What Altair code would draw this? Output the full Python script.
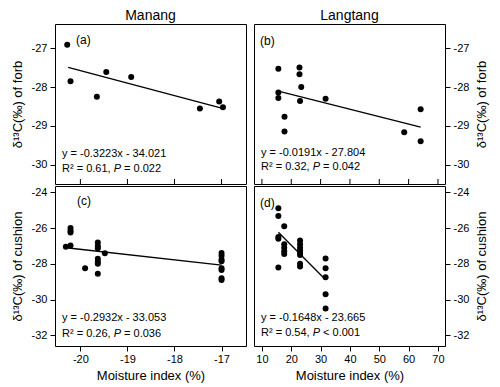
import altair as alt
import pandas as pd

FONT = "Liberation Sans"
W, H = 191, 160

# ---------------- data ----------------
manang_forb_x = [-20.28, -20.21, -19.65, -19.45, -18.92, -17.46, -17.05, -16.97]
manang_forb_y = [-26.91, -27.85, -28.25, -27.61, -27.74, -28.55, -28.37, -28.52]

langtang_forb_x = [15.6, 15.6, 15.6, 17.7, 17.7, 22.8, 22.8, 23.4, 23.0, 31.7, 58.5, 64.1, 64.1]
langtang_forb_y = [-27.53, -28.14, -28.28, -28.76, -29.14, -27.50, -27.67, -28.00, -28.36,
                   -28.30, -29.16, -28.57, -29.39]

manang_cush_x = [-20.31, -20.21, -20.21, -20.21, -20.21, -19.90,
                 -19.63, -19.63, -19.63, -19.63, -19.63, -19.63, -19.63, -19.48,
                 -17.0, -17.0, -17.0, -17.0, -17.0, -17.0, -17.0, -17.0]
manang_cush_y = [-27.05, -26.00, -26.15, -26.25, -26.97, -28.25,
                 -26.80, -27.00, -27.13, -27.72, -27.87, -28.00, -28.56, -27.41,
                 -27.40, -27.55, -27.75, -27.85, -28.25, -28.35, -28.80, -28.90]

langtang_cush_x = [15.6, 15.6, 15.6, 15.6, 15.6,
                   17.6, 17.6, 17.6, 17.6, 17.6,
                   23.0, 23.0, 23.0, 23.0, 23.0, 23.0, 23.0, 23.0,
                   31.7, 31.7, 31.7, 31.7, 31.7]
langtang_cush_y = [-24.90, -25.33, -26.50, -26.60, -28.20,
                   -25.90, -26.90, -27.10, -27.30, -27.45,
                   -26.70, -26.90, -27.10, -27.25, -27.40, -27.50, -28.00, -28.15,
                   -27.70, -28.25, -28.75, -29.70, -30.50]

# regression lines (slope, intercept, x-range) as printed on the chart
fits = {
    "a": (-0.3223, -34.021, [-20.26, -17.0]),
    "b": (-0.0191, -27.804, [15.6, 64.1]),
    "c": (-0.2932, -33.053, [-20.3, -17.0]),
    "d": (-0.1648, -23.665, [15.6, 31.7]),
}
eq_text = {
    "a": ("y = -0.3223x - 34.021", "R\u00b2 = 0.61,", "P", "= 0.022"),
    "b": ("y = -0.0191x - 27.804", "R\u00b2 = 0.32,", "P", "= 0.042"),
    "c": ("y = -0.2932x - 33.053", "R\u00b2 = 0.26,", "P", "= 0.036"),
    "d": ("y = -0.1648x - 23.665", "R\u00b2 = 0.54,", "P", "< 0.001"),
}

manang_ticks = [-20, -19, -18, -17]
langtang_ticks = [10, 20, 30, 40, 50, 60, 70]
forb_ticks = [-30, -29, -28, -27]
cush_ticks = [-32, -30, -28, -26, -24]

manang_dom = [-20.54, -16.48]
langtang_dom = [7.3, 72.4]
forb_dom = [-30.49, -26.38]
cush_dom = [-32.59, -23.65]

# Arial-like advance widths (per 1000 em) for computing italic P offset
AW = {" ": 278, ",": 278, ".": 278, "=": 584, "<": 584, "R": 722, "P": 667, "\u00b2": 333}
def text_w(s, size):
    return sum(AW.get(ch, 556) for ch in s) * size / 1000.0

LABEL_EXPR = "datum.value < 0 ? '-' + format(abs(datum.value), 'd') : format(datum.value, 'd')"

def panel(key, xs, ys, xdom, ydom, xticks, yticks, ytitle, side, bottom, title=None,
          lab_pos=(6, 16), eq_y=(130, 145)):
    xscale = alt.Scale(domain=xdom, nice=False, zero=False)
    yscale = alt.Scale(domain=ydom, nice=False, zero=False)
    if bottom:
        xaxis = alt.Axis(values=xticks, title="Moisture index (%)", grid=False, domain=False,
                         tickSize=5, tickColor="black", labelFontSize=11, labelColor="black",
                         labelPadding=2, titleFontSize=13, titleFontWeight="normal",
                         titleColor="black", titlePadding=5, labelExpr=LABEL_EXPR,
                         labelOverlap=False, labelFlush=False, labelBound=False)
    else:
        xaxis = None
    yaxis = alt.Axis(values=yticks, title=ytitle, orient=side, grid=False, domain=False,
                     tickSize=5, tickColor="black", labelFontSize=11, labelColor="black",
                     labelPadding=3, titleFontSize=13, titleFontWeight="normal",
                     titleColor="black", titlePadding=7 if side == "left" else 20,
                     titleAngle=270, labelExpr=LABEL_EXPR, labelOverlap=False,
                     labelFlush=False, labelBound=False)

    pts = alt.Chart(pd.DataFrame({"x": xs, "y": ys})).mark_circle(
        size=36, color="black", opacity=1
    ).encode(
        x=alt.X("x:Q", scale=xscale, axis=xaxis),
        y=alt.Y("y:Q", scale=yscale, axis=yaxis),
    )
    slope, icpt, xr = fits[key]
    line_df = pd.DataFrame({"x": xr, "y": [slope * v + icpt for v in xr]})
    line = alt.Chart(line_df).mark_line(color="black", strokeWidth=1.3).encode(
        x=alt.X("x:Q", scale=xscale, axis=xaxis), y=alt.Y("y:Q", scale=yscale, axis=yaxis)
    )
    layers = [pts, line]

    if not bottom:
        tk = alt.Chart(pd.DataFrame({"x": xticks})).mark_rule(color="black", strokeWidth=1).encode(
            x=alt.X("x:Q", scale=xscale, axis=None), y=alt.value(H - 5), y2=alt.value(H)
        )
        layers.append(tk)

    e1, r1, p, r3 = eq_text[key]
    fs = 11
    x0 = 7
    space = text_w(" ", fs)
    layers.append(alt.Chart(pd.DataFrame({"t": [e1]})).mark_text(
        align="left", baseline="middle", fontSize=fs, color="black").encode(
        x=alt.value(x0), y=alt.value(eq_y[0]), text="t:N"))
    layers.append(alt.Chart(pd.DataFrame({"t": [r1]})).mark_text(
        align="left", baseline="middle", fontSize=fs, color="black").encode(
        x=alt.value(x0), y=alt.value(eq_y[1]), text="t:N"))
    xp = x0 + text_w(r1, fs) + space
    layers.append(alt.Chart(pd.DataFrame({"t": [p]})).mark_text(
        align="left", baseline="middle", fontSize=fs, fontStyle="italic", color="black").encode(
        x=alt.value(xp), y=alt.value(eq_y[1]), text="t:N"))
    xr3 = xp + text_w(p, fs) + space
    layers.append(alt.Chart(pd.DataFrame({"t": [r3]})).mark_text(
        align="left", baseline="middle", fontSize=fs, color="black").encode(
        x=alt.value(xr3), y=alt.value(eq_y[1]), text="t:N"))
    layers.append(alt.Chart(pd.DataFrame({"t": ["(" + key + ")"]})).mark_text(
        align="left", baseline="middle", fontSize=12, color="black").encode(
        x=alt.value(lab_pos[0]), y=alt.value(lab_pos[1]), text="t:N"))

    ch = alt.layer(*layers).properties(width=W, height=H)
    if title:
        ch = ch.properties(title=alt.TitleParams(title, fontSize=14, fontWeight="normal",
                                                 color="black", offset=1))
    return ch

forb_title = "\u03b4\u00b9\u00b3C(\u2030) of forb"
cush_title = "\u03b4\u00b9\u00b3C(\u2030) of cushion"

a = panel("a", manang_forb_x, manang_forb_y, manang_dom, forb_dom, manang_ticks, forb_ticks,
          forb_title, "left", False, "Manang", lab_pos=(21, 16), eq_y=(130, 145))
b = panel("b", langtang_forb_x, langtang_forb_y, langtang_dom, forb_dom, langtang_ticks, forb_ticks,
          forb_title, "right", False, "Langtang", lab_pos=(6, 17), eq_y=(129, 143))
c = panel("c", manang_cush_x, manang_cush_y, manang_dom, cush_dom, manang_ticks, cush_ticks,
          cush_title, "left", True, lab_pos=(22, 15), eq_y=(132, 148))
d = panel("d", langtang_cush_x, langtang_cush_y, langtang_dom, cush_dom, langtang_ticks, cush_ticks,
          cush_title, "right", True, lab_pos=(6, 17), eq_y=(132, 147))

chart = alt.concat(a, b, c, d, columns=2, spacing={"row": 0, "column": 6}).properties(
    padding={"left": 2, "top": 0, "right": 0, "bottom": 0}
).configure(font=FONT).configure_view(stroke="black", strokeWidth=1)

chart.save("out.html", embed_options={"renderer": "svg", "actions": False})
